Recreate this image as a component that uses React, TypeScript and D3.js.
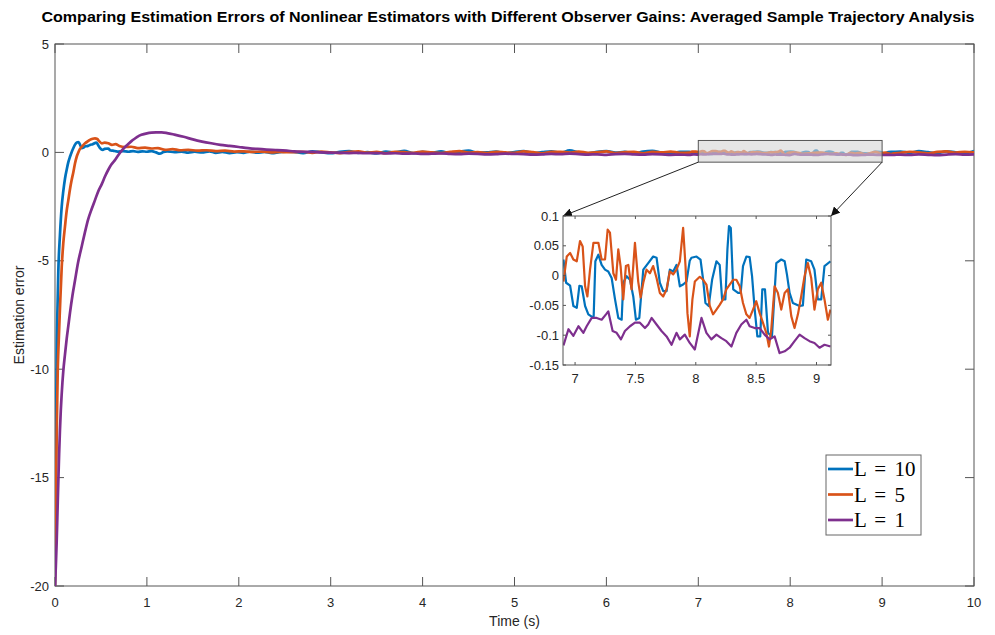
import React from "react";
import * as d3 from "d3";

// ---------- data ----------
const seriesNames = ["L = 10", "L = 5", "L = 1"];
const seriesColors = ["#0072BD", "#D95319", "#7E2F8E"];

const xTicks = [0, 1, 2, 3, 4, 5, 6, 7, 8, 9, 10];
const yTicks = [5, 0, -5, -10, -15, -20];
const insetXTicks = [7, 7.5, 8, 8.5, 9];
const insetYTicks = [0.1, 0.05, 0, -0.05, -0.1, -0.15];

const titleText =
  "Comparing Estimation Errors of Nonlinear Estimators with Different Observer Gains: Averaged Sample Trajectory Analysis";
const xLabel = "Time (s)";
const yLabel = "Estimation error";

// transient phase [t, error]
const blueTransient: [number, number][] = [
  [0, -20], [0.006, -16], [0.012, -12.5], [0.018, -9.5], [0.027, -7.2], [0.036, -5.5],
  [0.054, -3.8], [0.073, -2.5], [0.09, -1.8], [0.109, -1.2], [0.127, -0.8], [0.145, -0.45],
  [0.163, -0.2], [0.18, 0.0], [0.2, 0.2], [0.218, 0.36], [0.24, 0.46], [0.254, 0.48],
  [0.27, 0.38], [0.29, 0.2], [0.31, 0.22], [0.33, 0.28], [0.36, 0.3], [0.38, 0.34],
  [0.41, 0.38], [0.45, 0.45], [0.47, 0.33], [0.49, 0.2], [0.52, 0.12], [0.54, 0.16],
  [0.58, 0.18], [0.6, 0.1], [0.63, 0.08], [0.68, 0.04], [0.74, 0.06], [0.8, 0.03],
  [0.85, 0.06], [0.9, 0.02], [0.95, 0.05], [1.0, 0.03], [1.05, 0.06], [1.1, 0.0],
  [1.14, -0.06], [1.18, 0.02], [1.22, 0.05], [1.3, 0.01], [1.38, 0.04], [1.45, -0.01],
  [1.52, 0.03], [1.6, 0.0], [1.68, 0.05], [1.75, -0.02], [1.82, 0.02], [1.9, -0.03],
  [1.98, 0.01], [2.05, -0.02], [2.12, 0.03], [2.2, -0.01], [2.28, 0.02], [2.36, -0.03],
  [2.44, 0.01], [2.52, 0.04],
];
const orangeTransient: [number, number][] = [
  [0, -20], [0.01, -16], [0.02, -12.5], [0.03, -10], [0.036, -9.2], [0.054, -7.2],
  [0.073, -5.3], [0.09, -4.2], [0.109, -3.4], [0.127, -2.7], [0.145, -2.2], [0.163, -1.7],
  [0.18, -1.3], [0.2, -0.9], [0.218, -0.5], [0.236, -0.2], [0.254, 0.0], [0.27, 0.15],
  [0.29, 0.25], [0.31, 0.35], [0.33, 0.43], [0.36, 0.52], [0.38, 0.58], [0.41, 0.63],
  [0.435, 0.65], [0.46, 0.62], [0.48, 0.52], [0.51, 0.42], [0.54, 0.45], [0.58, 0.42],
  [0.62, 0.35], [0.66, 0.38], [0.7, 0.3], [0.76, 0.25], [0.83, 0.26], [0.9, 0.2],
  [0.98, 0.22], [1.05, 0.18], [1.12, 0.2], [1.2, 0.12], [1.28, 0.15], [1.36, 0.1],
  [1.45, 0.12], [1.55, 0.08], [1.65, 0.1], [1.75, 0.06], [1.85, 0.08], [1.95, 0.04],
  [2.05, 0.05], [2.15, 0.02], [2.25, 0.04], [2.35, 0.0], [2.45, 0.02], [2.52, 0.01],
];
const purpleTransient: [number, number][] = [
  [0, -20], [0.009, -19.1], [0.018, -18.0], [0.027, -16.6], [0.036, -15.2], [0.045, -13.9],
  [0.054, -12.8], [0.063, -11.9], [0.072, -11.2], [0.081, -10.6], [0.09, -10.1], [0.109, -9.3],
  [0.127, -8.6], [0.145, -8.0], [0.163, -7.4], [0.19, -6.6], [0.218, -5.9], [0.25, -5.1],
  [0.29, -4.35], [0.325, -3.7], [0.36, -3.1], [0.4, -2.6], [0.435, -2.2], [0.47, -1.8],
  [0.51, -1.45], [0.545, -1.1], [0.58, -0.8], [0.615, -0.55], [0.65, -0.37], [0.69, -0.12],
  [0.73, 0.1], [0.77, 0.28], [0.8, 0.4], [0.835, 0.53], [0.87, 0.64], [0.9, 0.73],
  [0.94, 0.81], [1.0, 0.88], [1.05, 0.91], [1.1, 0.92], [1.16, 0.92], [1.22, 0.89],
  [1.3, 0.82], [1.4, 0.72], [1.5, 0.6], [1.6, 0.5], [1.7, 0.42], [1.8, 0.35],
  [1.9, 0.3], [2.0, 0.25], [2.1, 0.2], [2.2, 0.16], [2.3, 0.13], [2.4, 0.11], [2.52, 0.08],
];

// steady state, t = 2.6 ... 6.8 (step 0.1)
const blueSteadyA = [
  0.02, -0.03, 0.05, 0.0, -0.04, 0.03, 0.06, -0.02, 0.01, -0.05, 0.04, 0.0, 0.07, -0.03,
  0.02, -0.01, 0.05, -0.04, 0.03, 0.08, -0.02, 0.0, 0.04, -0.05, 0.02, 0.06, -0.03, 0.01,
  0.05, -0.02, 0.09, 0.0, -0.04, 0.03, 0.06, -0.01, 0.02, -0.05, 0.04, 0.07, 0.0, -0.03, 0.02,
];
const orangeSteadyA = [
  0.01, 0.03, -0.02, 0.04, 0.0, -0.03, 0.02, 0.05, -0.01, 0.02, -0.04, 0.03, 0.01, -0.02,
  0.04, 0.0, -0.03, 0.02, 0.06, -0.01, 0.01, -0.03, 0.03, 0.0, -0.02, 0.05, 0.01, -0.04,
  0.02, 0.03, -0.01, 0.04, -0.02, 0.0, 0.05, -0.03, 0.01, 0.02, -0.04, 0.03, 0.0, 0.04, -0.02,
];
const purpleSteadyA = [
  0.05, 0.03, 0.02, 0.0, -0.01, -0.02, -0.03, -0.02, -0.04, -0.03, -0.05, -0.04, -0.06,
  -0.05, -0.07, -0.06, -0.05, -0.07, -0.08, -0.06, -0.07, -0.09, -0.08, -0.06, -0.07,
  -0.08, -0.1, -0.09, -0.07, -0.08, -0.06, -0.08, -0.1, -0.09, -0.11, -0.08, -0.07, -0.09,
  -0.1, -0.08, -0.09, -0.11, -0.1,
];

// zoomed window [t, error]
const blueZoom: [number, number][] = [
  [6.904, 0.027], [6.926, -0.012], [6.959, -0.017], [6.986, -0.051], [7.014, -0.054],
  [7.036, -0.017], [7.055, -0.018], [7.083, -0.051], [7.11, -0.065], [7.138, -0.069],
  [7.154, -0.068], [7.168, 0.024], [7.193, 0.035], [7.22, 0.018], [7.248, 0.01],
  [7.275, 0.007], [7.303, -0.004], [7.331, -0.04], [7.358, -0.071], [7.386, -0.074],
  [7.399, -0.012], [7.427, -0.001], [7.455, -0.007], [7.482, -0.035], [7.504, -0.074],
  [7.532, -0.071], [7.565, 0.01], [7.606, 0.021], [7.647, 0.032], [7.675, 0.03],
  [7.702, -0.012], [7.73, -0.026], [7.758, -0.026], [7.785, 0.01], [7.813, 0.007],
  [7.84, 0.018], [7.868, -0.018], [7.895, -0.015], [7.923, -0.01], [7.95, 0.025],
  [7.964, 0.03], [8.006, 0.032], [8.039, 0.027], [8.061, -0.007], [8.08, -0.046],
  [8.107, -0.051], [8.135, -0.007], [8.171, 0.024], [8.198, 0.018], [8.218, -0.04],
  [8.245, -0.04], [8.262, 0.044], [8.275, 0.083], [8.29, 0.08], [8.31, -0.023],
  [8.35, -0.029], [8.372, -0.029], [8.391, 0.016], [8.419, 0.032], [8.446, 0.031],
  [8.466, -0.001], [8.488, -0.057], [8.51, -0.102], [8.534, -0.102], [8.551, -0.023],
  [8.573, -0.023], [8.598, -0.096], [8.631, -0.102], [8.667, 0.021], [8.708, 0.027],
  [8.736, 0.024], [8.755, 0.002], [8.777, -0.029], [8.804, -0.046], [8.86, -0.051],
  [8.887, -0.05], [8.915, 0.027], [8.956, 0.024], [8.983, 0.01], [9.011, -0.04],
  [9.039, -0.04], [9.066, 0.016], [9.116, 0.024],
];
const orangeZoom: [number, number][] = [
  [6.904, -0.01], [6.931, 0.032], [6.959, 0.038], [6.986, 0.027], [7.014, 0.024],
  [7.041, 0.058], [7.063, 0.049], [7.083, -0.018], [7.102, -0.035], [7.124, 0.01],
  [7.152, 0.055], [7.193, 0.055], [7.22, 0.027], [7.248, 0.027], [7.27, 0.077],
  [7.289, 0.072], [7.317, 0.004], [7.339, -0.007], [7.358, 0.044], [7.377, 0.016],
  [7.399, -0.04], [7.421, 0.016], [7.441, 0.018], [7.468, -0.023], [7.496, 0.055],
  [7.523, -0.01], [7.543, -0.037], [7.565, -0.012], [7.592, 0.01], [7.62, 0.004],
  [7.647, 0.016], [7.675, -0.004], [7.702, -0.029], [7.73, -0.035], [7.758, -0.023],
  [7.785, 0.007], [7.813, 0.002], [7.84, 0.01], [7.868, 0.024], [7.895, 0.08],
  [7.915, 0.016], [7.931, -0.063], [7.95, -0.102], [7.972, -0.04], [7.992, -0.01],
  [8.033, -0.002], [8.061, -0.007], [8.088, -0.015], [8.116, -0.051], [8.143, -0.065],
  [8.171, -0.057], [8.198, -0.049], [8.226, -0.04], [8.253, -0.023], [8.281, -0.015],
  [8.309, -0.007], [8.336, -0.007], [8.364, -0.018], [8.391, -0.046], [8.419, -0.065],
  [8.446, -0.071], [8.474, -0.057], [8.501, -0.043], [8.529, -0.063], [8.556, -0.079],
  [8.584, -0.096], [8.606, -0.119], [8.625, -0.091], [8.653, -0.018], [8.68, -0.029],
  [8.708, -0.057], [8.736, -0.029], [8.763, -0.023], [8.791, -0.068], [8.818, -0.088],
  [8.846, -0.065], [8.873, -0.035], [8.901, -0.001], [8.928, 0.021], [8.956, -0.004],
  [8.983, -0.057], [9.011, -0.023], [9.039, -0.012], [9.066, -0.04], [9.094, -0.074],
  [9.116, -0.057],
];
const purpleZoom: [number, number][] = [
  [6.904, -0.117], [6.945, -0.09], [6.986, -0.101], [7.028, -0.085], [7.069, -0.096],
  [7.096, -0.085], [7.138, -0.071], [7.179, -0.071], [7.22, -0.074], [7.256, -0.065],
  [7.275, -0.06], [7.311, -0.093], [7.344, -0.096], [7.38, -0.107], [7.413, -0.093],
  [7.455, -0.085], [7.496, -0.079], [7.537, -0.079], [7.579, -0.088], [7.606, -0.082],
  [7.634, -0.071], [7.675, -0.082], [7.716, -0.093], [7.758, -0.102], [7.799, -0.116],
  [7.84, -0.096], [7.868, -0.107], [7.909, -0.099], [7.95, -0.113], [7.992, -0.124],
  [8.047, -0.071], [8.088, -0.096], [8.129, -0.107], [8.171, -0.099], [8.212, -0.105],
  [8.253, -0.11], [8.295, -0.119], [8.336, -0.096], [8.377, -0.082], [8.419, -0.074],
  [8.446, -0.085], [8.488, -0.088], [8.529, -0.088], [8.57, -0.099], [8.612, -0.107],
  [8.653, -0.102], [8.694, -0.13], [8.736, -0.127], [8.777, -0.121], [8.818, -0.11],
  [8.86, -0.099], [8.901, -0.105], [8.942, -0.11], [8.983, -0.113], [9.025, -0.121],
  [9.066, -0.116], [9.116, -0.119],
];

// steady state, t = 9.2 ... 10.0 (step 0.1)
const blueSteadyB = [0.04, -0.02, 0.06, 0.01, -0.03, 0.05, 0.0, -0.04, 0.06];
const orangeSteadyB = [-0.02, 0.03, 0.0, -0.04, 0.02, 0.05, -0.01, 0.03, 0.0];
const purpleSteadyB = [-0.1, -0.12, -0.09, -0.11, -0.13, -0.1, -0.08, -0.1, -0.09];

// zoom window marked on the main axes (data units)
const zoomBoxX = [7, 9];
const zoomBoxY = [-0.45, 0.55];
const insetXDomain = [6.9, 9.12];
const insetYDomain = [-0.15, 0.1];

// ---------- helpers ----------
const steadyTimesA = d3.range(26, 69).map((i) => i / 10);
const steadyTimesB = d3.range(92, 101).map((i) => i / 10);

function buildSeries(
  tr: [number, number][],
  a: number[],
  z: [number, number][],
  b: number[]
): [number, number][] {
  return [
    ...tr,
    ...a.map((v, i) => [steadyTimesA[i], v] as [number, number]),
    ...z,
    ...b.map((v, i) => [steadyTimesB[i], v] as [number, number]),
  ];
}

const mainSeries = [
  buildSeries(blueTransient, blueSteadyA, blueZoom, blueSteadyB),
  buildSeries(orangeTransient, orangeSteadyA, orangeZoom, orangeSteadyB),
  buildSeries(purpleTransient, purpleSteadyA, purpleZoom, purpleSteadyB),
];
const zoomSeries = [blueZoom, orangeZoom, purpleZoom];

const W = 995;
const H = 635;
const M = { left: 55, right: 974, top: 44, bottom: 586 };
const I = { left: 563, right: 831, top: 216, bottom: 365 };

const axisColor = "#555555";
const textColor = "#262626";
const fontSans = "'Liberation Sans', Arial, Helvetica, sans-serif";

export default function App() {
  const x = d3.scaleLinear().domain([0, 10]).range([M.left, M.right]);
  const y = d3.scaleLinear().domain([-20, 5]).range([M.bottom, M.top]);
  const xi = d3.scaleLinear().domain(insetXDomain).range([I.left, I.right]);
  const yi = d3.scaleLinear().domain(insetYDomain).range([I.bottom, I.top]);

  const mainLine = d3
    .line<[number, number]>()
    .x((d) => x(d[0]))
    .y((d) => y(d[1]))
    .curve(d3.curveMonotoneX);
  const insetLine = d3
    .line<[number, number]>()
    .x((d) => xi(d[0]))
    .y((d) => yi(d[1]));

  const tick = 9;
  const itick = 3;

  const bx0 = x(zoomBoxX[0]);
  const bx1 = x(zoomBoxX[1]);
  const by0 = y(zoomBoxY[1]);
  const by1 = y(zoomBoxY[0]);

  const legend = { x: 826, y: 455, w: 95, h: 80 };

  return (
    <svg
      width={W}
      height={H}
      style={{ position: "absolute", left: 0, top: 0, background: "#fff" }}
      fontFamily={fontSans}
    >
      <defs>
        <clipPath id="mainClip">
          <rect x={M.left} y={M.top} width={M.right - M.left} height={M.bottom - M.top} />
        </clipPath>
        <clipPath id="insetClip">
          <rect x={I.left} y={I.top} width={I.right - I.left} height={I.bottom - I.top} />
        </clipPath>
        <marker
          id="arrowHead"
          viewBox="0 0 10 10"
          refX="10"
          refY="5"
          markerWidth="9"
          markerHeight="9"
          markerUnits="userSpaceOnUse"
          orient="auto"
        >
          <path d="M0,0 L10,5 L0,10 Z" fill="#111" />
        </marker>
      </defs>

      <rect x={0} y={0} width={W} height={H} fill="#fff" />

      {/* title */}
      <text
        x={(41 + 975) / 2}
        y={22}
        textAnchor="middle"
        fontSize={14}
        fontWeight="bold"
        fill="#000"
        textLength={933}
        lengthAdjust="spacingAndGlyphs"
      >
        {titleText}
      </text>

      {/* main axes box */}
      <rect
        x={M.left}
        y={M.top}
        width={M.right - M.left}
        height={M.bottom - M.top}
        fill="#fff"
        stroke={axisColor}
        strokeWidth={1}
      />

      {/* x ticks */}
      {xTicks.map((t) => (
        <g key={"xt" + t}>
          <line x1={x(t)} x2={x(t)} y1={M.bottom} y2={M.bottom - tick} stroke={axisColor} />
          <line x1={x(t)} x2={x(t)} y1={M.top} y2={M.top + tick} stroke={axisColor} />
          <text x={x(t)} y={M.bottom + 21} textAnchor="middle" fontSize={13} fill={textColor}>
            {String(t)}
          </text>
        </g>
      ))}
      {/* y ticks */}
      {yTicks.map((t) => (
        <g key={"yt" + t}>
          <line x1={M.left} x2={M.left + tick} y1={y(t)} y2={y(t)} stroke={axisColor} />
          <line x1={M.right} x2={M.right - tick} y1={y(t)} y2={y(t)} stroke={axisColor} />
          <text x={M.left - 6} y={y(t) + 4.5} textAnchor="end" fontSize={13} fill={textColor}>
            {String(t)}
          </text>
        </g>
      ))}

      <text x={(M.left + M.right) / 2} y={626} textAnchor="middle" fontSize={14} fill={textColor}>
        {xLabel}
      </text>
      <text
        transform={`translate(24, ${(M.top + M.bottom) / 2}) rotate(-90)`}
        textAnchor="middle"
        fontSize={14}
        fill={textColor}
      >
        {yLabel}
      </text>

      {/* main series */}
      <g clipPath="url(#mainClip)">
        {mainSeries.map((s, i) => (
          <path
            key={"m" + i}
            d={mainLine(s) || ""}
            fill="none"
            stroke={seriesColors[i]}
            strokeWidth={2.7}
            strokeLinejoin="round"
          />
        ))}
      </g>

      {/* zoom window */}
      <rect
        x={bx0}
        y={by0}
        width={bx1 - bx0}
        height={by1 - by0}
        fill="#d4d4d4"
        fillOpacity={0.6}
        stroke="#555"
        strokeWidth={1}
      />
      <line x1={bx0} y1={by1} x2={I.left} y2={I.top} stroke="#222" strokeWidth={1} markerEnd="url(#arrowHead)" />
      <line x1={bx1} y1={by1} x2={I.right} y2={I.top} stroke="#222" strokeWidth={1} markerEnd="url(#arrowHead)" />

      {/* inset */}
      <rect
        x={I.left}
        y={I.top}
        width={I.right - I.left}
        height={I.bottom - I.top}
        fill="#fff"
      />
      <g clipPath="url(#insetClip)">
        {zoomSeries.map((s, i) => (
          <path
            key={"z" + i}
            d={insetLine(s) || ""}
            fill="none"
            stroke={seriesColors[i]}
            strokeWidth={2.2}
            strokeLinejoin="round"
          />
        ))}
      </g>
      <rect
        x={I.left}
        y={I.top}
        width={I.right - I.left}
        height={I.bottom - I.top}
        fill="none"
        stroke={axisColor}
        strokeWidth={1}
      />
      {insetXTicks.map((t) => (
        <g key={"ixt" + t}>
          <line x1={xi(t)} x2={xi(t)} y1={I.bottom} y2={I.bottom - itick} stroke={axisColor} />
          <line x1={xi(t)} x2={xi(t)} y1={I.top} y2={I.top + itick} stroke={axisColor} />
          <text x={xi(t)} y={I.bottom + 18} textAnchor="middle" fontSize={13} fill={textColor}>
            {String(t)}
          </text>
        </g>
      ))}
      {insetYTicks.map((t) => (
        <g key={"iyt" + t}>
          <line x1={I.left} x2={I.left + itick} y1={yi(t)} y2={yi(t)} stroke={axisColor} />
          <line x1={I.right} x2={I.right - itick} y1={yi(t)} y2={yi(t)} stroke={axisColor} />
          <text x={I.left - 4} y={yi(t) + 4.5} textAnchor="end" fontSize={13} fill={textColor}>
            {String(t)}
          </text>
        </g>
      ))}

      {/* legend */}
      <rect
        x={legend.x}
        y={legend.y}
        width={legend.w}
        height={legend.h}
        fill="#fff"
        stroke="#666"
        strokeWidth={1}
      />
      {seriesNames.map((n, i) => {
        const cy = legend.y + 14 + i * 25.5;
        return (
          <g key={"lg" + i}>
            <line x1={legend.x + 2} x2={legend.x + 27} y1={cy} y2={cy} stroke={seriesColors[i]} strokeWidth={2.7} />
            <text
              x={legend.x + 28}
              y={cy + 7}
              fontSize={21}
              fontFamily="'Liberation Serif', 'Times New Roman', serif"
              fill="#000"
              style={{ wordSpacing: "3px" }}
            >
              {n}
            </text>
          </g>
        );
      })}
    </svg>
  );
}
